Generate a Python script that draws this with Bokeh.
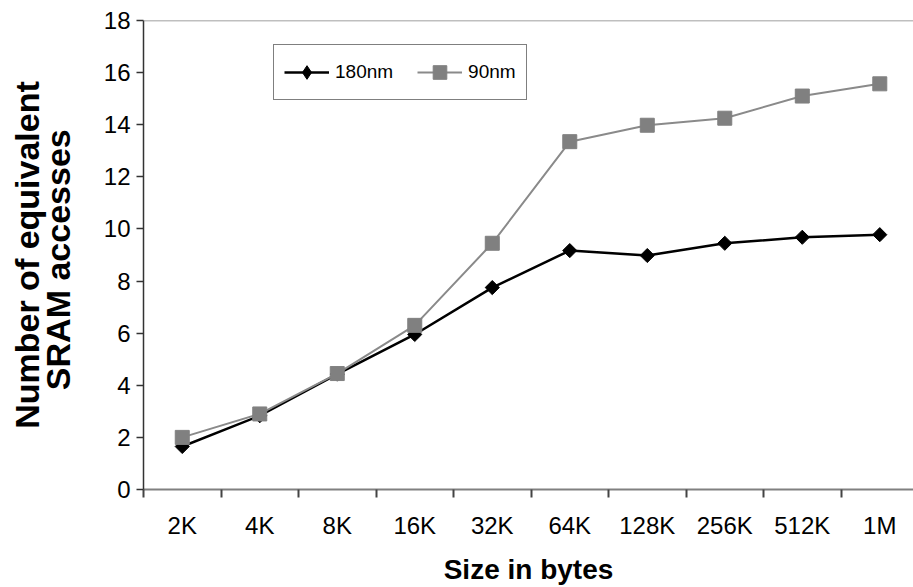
import numpy as np
from bokeh.plotting import figure
from bokeh.models import Range1d, FixedTicker, Span, Legend, LegendItem
from bokeh.embed import file_html
from bokeh.resources import INLINE

categories = ["2K", "4K", "8K", "16K", "32K", "64K", "128K", "256K", "512K", "1M"]
nm180 = [1.65, 2.83, 4.43, 5.95, 7.75, 9.17, 8.98, 9.45, 9.68, 9.78]
nm90 = [2.0, 2.9, 4.45, 6.3, 9.45, 13.35, 13.98, 14.25, 15.1, 15.57]
y_ticks = [0, 2, 4, 6, 8, 10, 12, 14, 16, 18]
y_title = "Number of equivalent\nSRAM  accesses"

xs = [i + 0.5 for i in range(len(categories))]
bounds = [i for i in range(len(categories) + 1)]

FONT = "Liberation Sans"

p = figure(width=913, height=587, min_border_left=143, min_border_top=20,
           min_border_right=0, min_border_bottom=95,
           x_range=Range1d(0, 9.935), y_range=Range1d(0, 18),
           output_backend="svg", toolbar_location=None,
           background_fill_color="white", border_fill_color="white")
p.outline_line_color = None
p.grid.visible = False

# x axis
xa = p.xaxis[0]
xa.ticker = FixedTicker(ticks=xs, minor_ticks=bounds)
xa.major_label_overrides = {x: c for x, c in zip(xs, categories)}
xa.major_tick_out = 0
xa.major_tick_in = 0
xa.minor_tick_out = 8
xa.minor_tick_in = 0
xa.minor_tick_line_color = "#444444"
xa.minor_tick_line_width = 2
xa.axis_line_color = "#808080"
xa.axis_line_width = 2
xa.major_label_standoff = 14
xa.major_label_text_font = FONT
xa.major_label_text_font_size = "24px"
xa.major_label_text_color = "black"
xa.axis_label = "Size in bytes"
xa.axis_label_text_font = FONT
xa.axis_label_text_font_style = "bold"
xa.axis_label_text_font_size = "28px"
xa.axis_label_text_color = "black"
xa.axis_label_standoff = 12

# y axis
ya = p.yaxis[0]
ya.ticker = FixedTicker(ticks=y_ticks)
ya.major_tick_out = 7
ya.major_tick_in = 0
ya.minor_tick_out = 0
ya.minor_tick_in = 0
ya.major_tick_line_color = "#333333"
ya.major_tick_line_width = 1.5
ya.axis_line_color = "#333333"
ya.axis_line_width = 1.5
ya.major_label_standoff = 6
ya.major_label_text_font = FONT
ya.major_label_text_font_size = "24px"
ya.major_label_text_color = "black"
ya.axis_label = y_title
ya.axis_label_text_font = FONT
ya.axis_label_text_font_style = "bold"
ya.axis_label_text_font_size = "34px"
ya.axis_label_text_line_height = 0.8
ya.axis_label_text_color = "black"
ya.axis_label_standoff = 24

p.add_layout(Span(location=18, dimension="width", line_color="#808080", line_width=1.5))

l1 = p.line(xs, nm180, line_color="black", line_width=2.5)
m1 = p.scatter(xs, nm180, marker="square", angle=np.pi / 4, size=10,
               fill_color="black", line_color="black")
l2 = p.line(xs, nm90, line_color="#8a8a8a", line_width=2)
m2 = p.scatter(xs, nm90, marker="square", size=14,
               fill_color="#808080", line_color="#808080")
# legend-only glyph (no visible point) so the legend shows a diamond
k1 = p.scatter(x=[np.nan], y=[np.nan], marker="diamond", size=14,
               fill_color="black", line_color="black")

legend = Legend(items=[LegendItem(label="180nm", renderers=[l1, k1]),
                       LegendItem(label="90nm", renderers=[l2, m2])],
                location=(130, 389), orientation="horizontal",
                padding=10, margin=0, spacing=24, glyph_width=45, glyph_height=34,
                label_standoff=6, label_text_font=FONT, label_text_font_size="19px",
                label_text_color="black", border_line_color="black",
                border_line_width=1.5, background_fill_color="white",
                background_fill_alpha=1.0)
p.add_layout(legend)

open("out.html", "w").write(file_html(p, INLINE))
